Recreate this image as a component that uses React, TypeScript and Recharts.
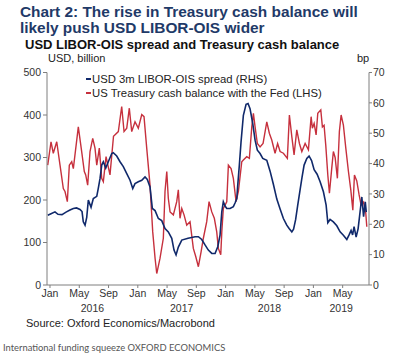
import React from "react";
import { LineChart, Line, XAxis, YAxis } from "recharts";

// months since Jan 2016 -> Treasury cash balance (USD bn, LHS)
const cashMonths = [
  -0.31, 0.14, 0.45, 0.92, 1.37, 1.82, 2.05, 2.37, 2.64, 2.97,
  3.19, 3.87, 4.33, 4.69, 4.88, 5.15, 5.47, 5.84, 6.15, 6.39,
  6.74, 7.07, 7.29, 7.66, 8.2, 8.68, 9.34, 9.8, 10.12, 10.49,
  10.84, 11.17, 11.62, 12.07, 12.54, 12.85, 13.22, 13.67, 14.04, 14.36,
  14.59, 15.04, 15.49, 15.72, 15.96, 16.17, 16.41, 16.86, 17.32, 17.54,
  17.77, 18.01, 18.32, 18.69, 19.14, 19.59, 19.92, 20.28, 20.65, 20.96,
  21.42, 21.74, 22.11, 22.46, 22.79, 23.01, 23.34, 23.48, 23.69, 24.16,
  24.38, 24.75, 25.06, 25.43, 25.75, 26.21, 26.43, 26.89, 27.25, 27.58,
  27.8, 28.03, 28.34, 28.71, 29.12, 29.63, 29.98, 30.31, 30.76, 31.11,
  31.45, 31.9, 32.44, 32.72, 33.05, 33.36, 33.73, 34.09, 34.42, 34.87,
  35.32, 35.69, 35.86, 36.1, 36.37, 36.6, 37.01, 37.23, 37.46, 37.69,
  37.97, 38.19, 38.51, 38.73, 38.97, 39.28, 39.55, 39.79, 40.1, 40.43,
  40.79, 41.11, 41.39, 41.61, 41.93, 42.25, 42.52, 42.86, 43.16, 43.3,
];
const cashBalance = [
  282, 337, 310, 337, 282, 227, 220, 196, 282, 290,
  274, 372, 314, 267, 259, 235, 314, 345, 322, 282,
  322, 251, 243, 302, 259, 350, 361, 420, 361, 369,
  416, 361, 384, 369, 401, 396, 322, 235, 125, 63,
  27, 63, 110, 220, 267, 204, 172, 165, 196, 224,
  157, 180, 165, 141, 149, 86, 67, 43, 78, 110,
  149, 196, 172, 157, 125, 86, 71, 125, 180, 196,
  282, 274, 251, 196, 220, 290, 294, 302, 298, 372,
  404, 372, 333, 325, 333, 384, 357, 341, 310, 333,
  314, 310, 298, 400, 349, 306, 365, 333, 314, 333,
  318, 396, 369, 380, 353, 404, 412, 372, 376, 329,
  259, 216, 275, 314, 300, 251, 361, 400, 376, 322,
  267, 224, 176, 259, 245, 212, 188, 195, 169, 137,
];

// months since Jan 2016 -> USD 3m LIBOR-OIS spread (bp, RHS)
const spreadMonths = [
  -0.31, 0.14, 0.68, 1.09, 1.64, 2.19, 2.73, 3.19, 3.62, 4.1,
  4.38, 4.55, 4.79, 5.02, 5.24, 5.61, 5.92, 6.39, 6.6, 6.84,
  7.07, 7.29, 7.62, 7.97, 8.44, 8.65, 9.12, 9.57, 10.02, 10.49,
  10.94, 11.31, 11.62, 12.07, 12.54, 12.99, 13.3, 13.67, 13.99, 14.36,
  14.81, 15.27, 15.72, 16.17, 16.64, 16.95, 17.23, 17.54, 18.01, 18.87,
  19.83, 20.28, 20.74, 21.19, 21.64, 22.11, 22.56, 22.93, 23.24, 23.48,
  23.69, 23.93, 24.16, 24.61, 25.06, 25.29, 25.53, 25.66, 25.88, 26.11,
  26.43, 26.8, 27.07, 27.34, 27.71, 28.03, 28.34, 28.71, 29.08, 29.63,
  30.08, 30.53, 31.0, 31.45, 31.9, 32.36, 32.68, 33.05, 33.29, 33.57,
  33.84, 34.18, 34.45, 34.73, 35.1, 35.41, 35.75, 36.1, 36.51, 36.92,
  37.37, 37.74, 37.97, 38.28, 38.73, 39.2, 39.65, 40.1, 40.57, 40.88,
  41.15, 41.36, 41.56, 41.84, 42.11, 42.38, 42.62, 42.86, 43.09, 43.23,
];
const spreadBp = [
  23.0, 23.5, 24.1, 23.3, 23.2, 24.0, 24.7, 25.2, 25.4, 24.9,
  24.2, 20.8, 19.7, 22.3, 28.0, 25.6, 28.5, 29.2, 31.8, 35.1,
  39.5, 40.6, 38.5, 40.6, 43.3, 43.6, 42.5, 40.6, 39.0, 36.7,
  34.5, 31.8, 33.4, 34.0, 34.5, 35.6, 34.8, 32.3, 25.2, 24.5,
  21.9, 21.2, 18.6, 17.5, 15.4, 11.5, 9.9, 12.5, 14.8, 15.4,
  15.9, 15.9, 15.0, 13.2, 11.5, 10.4, 10.4, 12.6, 16.4, 24.1,
  27.4, 26.0, 25.2, 25.2, 25.8, 27.0, 28.5, 32.9, 39.5, 47.1,
  55.9, 59.5, 59.8, 58.1, 53.2, 47.7, 44.4, 43.3, 41.7, 41.1,
  37.5, 33.2, 28.3, 25.0, 21.9, 19.7, 18.6, 17.5, 18.4, 21.5,
  26.0, 31.3, 35.5, 39.5, 41.7, 42.5, 41.0, 38.0, 36.5, 34.0,
  30.7, 26.3, 20.5, 21.6, 20.8, 19.5, 17.5, 16.4, 15.0, 16.5,
  18.0, 16.5, 19.2, 15.8, 18.5, 24.1, 29.0, 22.5, 27.4, 24.0,
];

const monthTicks = [0, 4, 8, 12, 16, 20, 24, 28, 32, 36, 40];
const monthNames = ["Jan", "May", "Sep"];
const yearTicks = [5.8, 18, 30, 39.8];
const yearLabels = ["2016", "2017", "2018", "2019"];
const lhsTicks = [0, 100, 200, 300, 400, 500];
const rhsTicks = [0, 10, 20, 30, 40, 50, 60, 70];

const BLUE = "#10296b";
const RED = "#c6303d";
const AXIS = "#7f7f7f";
const FONT = "'Liberation Sans', Arial, sans-serif";

const cashData = cashMonths.map((m, i) => ({ m, v: cashBalance[i] }));
const spreadData = spreadMonths.map((m, i) => ({ m, v: spreadBp[i] }));

const tickStyle = { fontSize: 10.5, fill: "#333", fontFamily: FONT };

export default function App() {
  return (
    <div
      style={{
        position: "absolute",
        left: 0,
        top: 0,
        width: 400,
        height: 357,
        background: "#fff",
        fontFamily: FONT,
        overflow: "hidden",
      }}
    >
      <div
        style={{
          position: "absolute",
          left: 20,
          top: 3.7,
          fontSize: 15.4,
          lineHeight: "16px",
          fontWeight: "bold",
          color: "#1f3a68",
          whiteSpace: "nowrap",
        }}
      >
        Chart 2: The rise in Treasury cash balance will
        <br />
        likely push USD LIBOR-OIS wider
      </div>
      <div
        style={{
          position: "absolute",
          left: 25,
          top: 37.5,
          fontSize: 13,
          lineHeight: "13px",
          fontWeight: "bold",
          color: "#111",
          whiteSpace: "nowrap",
        }}
      >
        USD LIBOR-OIS spread and Treasury cash balance
      </div>
      <div style={{ position: "absolute", left: 48, top: 52.7, fontSize: 11, lineHeight: "11px", color: "#222" }}>
        USD, billion
      </div>
      <div style={{ position: "absolute", left: 357, top: 52.7, fontSize: 11, lineHeight: "11px", color: "#222" }}>
        bp
      </div>

      <LineChart
        width={400}
        height={357}
        margin={{ top: 72.5, right: 0, bottom: 38, left: 0 }}
        style={{ position: "absolute", left: 0, top: 0 }}
      >
        <XAxis
          xAxisId="m"
          type="number"
          dataKey="m"
          domain={[-0.41, 43.6]}
          allowDataOverflow
          ticks={monthTicks}
          tickFormatter={(v: number) => monthNames[(v % 12) / 4]}
          interval={0}
          height={18}
          tickSize={3}
          tickMargin={2}
          stroke={AXIS}
          tick={tickStyle}
        />
        <XAxis
          xAxisId="yr"
          type="number"
          dataKey="m"
          domain={[-0.41, 43.6]}
          allowDataOverflow
          ticks={yearTicks}
          tickFormatter={(v: number) => yearLabels[yearTicks.indexOf(v)]}
          interval={0}
          height={16}
          tickSize={0}
          tickMargin={2}
          axisLine={false}
          tickLine={false}
          tick={tickStyle}
        />
        <YAxis
          yAxisId="lhs"
          orientation="left"
          domain={[0, 500]}
          ticks={lhsTicks}
          interval={0}
          width={47}
          tickSize={4}
          tickMargin={2}
          stroke={AXIS}
          tick={tickStyle}
        />
        <YAxis
          yAxisId="rhs"
          orientation="right"
          domain={[0, 70]}
          ticks={rhsTicks}
          interval={0}
          width={31}
          tickSize={3}
          tickMargin={1}
          stroke={AXIS}
          tick={{ ...tickStyle, textAnchor: "start" }}
        />
        <Line
          xAxisId="m"
          yAxisId="lhs"
          data={cashData}
          dataKey="v"
          type="linear"
          stroke={RED}
          strokeWidth={1.4}
          dot={false}
          isAnimationActive={false}
        />
        <Line
          xAxisId="m"
          yAxisId="rhs"
          data={spreadData}
          dataKey="v"
          type="linear"
          stroke={BLUE}
          strokeWidth={1.6}
          dot={false}
          isAnimationActive={false}
        />
      </LineChart>

      {/* legend */}
      <div style={{ position: "absolute", left: 86, top: 72, fontSize: 11.3, lineHeight: "14.3px", color: "#222" }}>
        <div style={{ display: "flex", alignItems: "center" }}>
          <span style={{ width: 5, height: 2, background: BLUE, marginRight: 1, display: "inline-block" }} />
          USD 3m LIBOR-OIS spread (RHS)
        </div>
        <div style={{ display: "flex", alignItems: "center" }}>
          <span style={{ width: 5, height: 2, background: RED, marginRight: 1, display: "inline-block" }} />
          US Treasury cash balance with the Fed (LHS)
        </div>
      </div>

      <div style={{ position: "absolute", left: 26, top: 317.7, fontSize: 11, lineHeight: "11px", color: "#222" }}>
        Source: Oxford Economics/Macrobond
      </div>
      <div
        style={{
          position: "absolute",
          left: 3,
          top: 343.4,
          fontSize: 9.4,
          lineHeight: "9.4px",
          color: "#555",
          fontFamily: "Lato, sans-serif",
          whiteSpace: "nowrap",
        }}
      >
        International funding squeeze OXFORD ECONOMICS
      </div>
    </div>
  );
}
